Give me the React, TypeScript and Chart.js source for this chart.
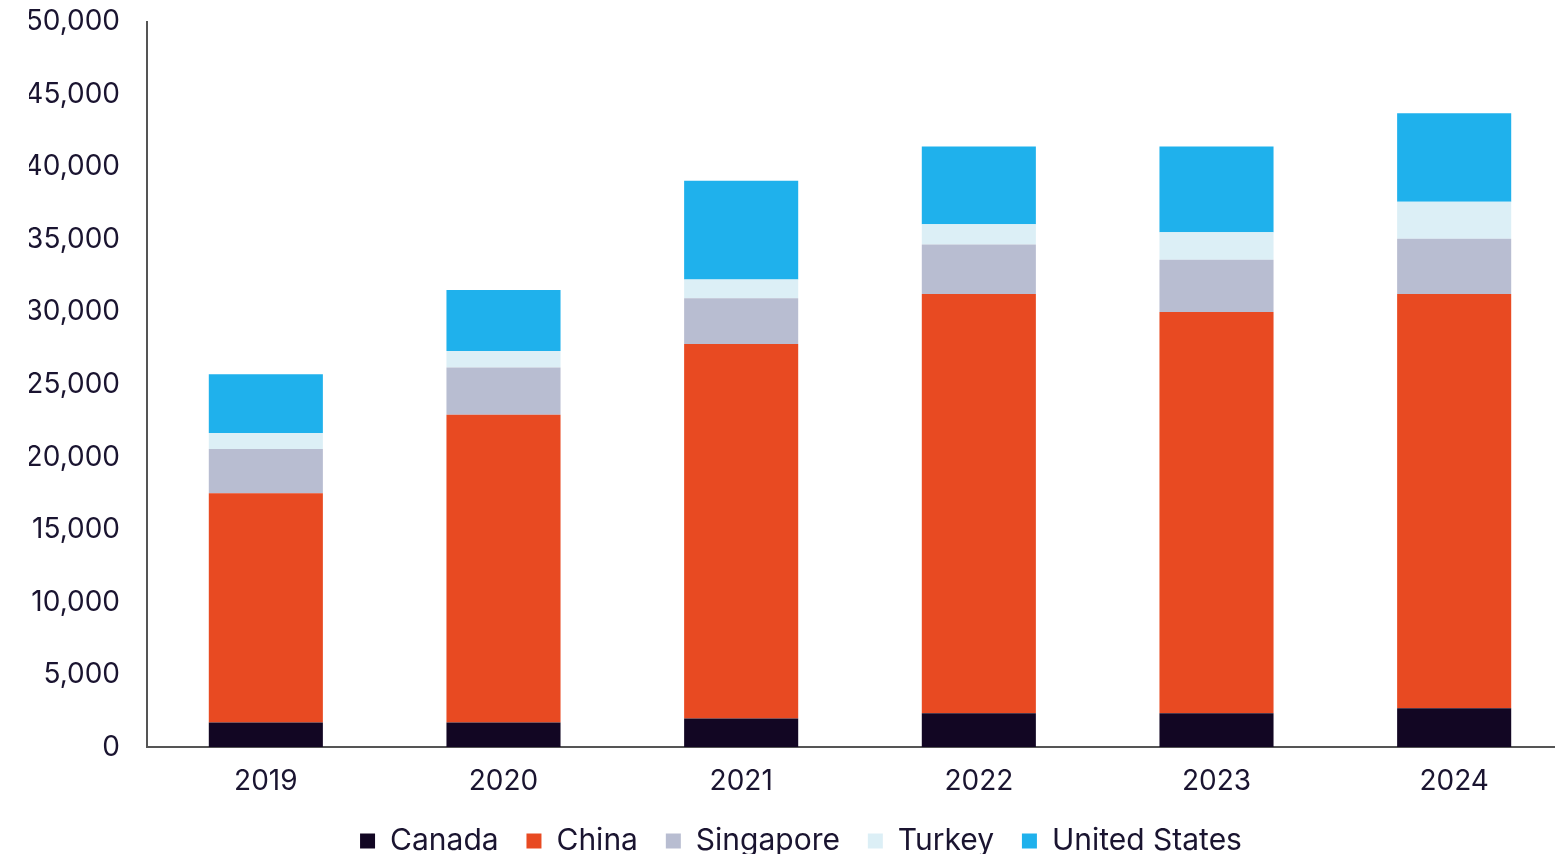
import React, { useEffect, useRef } from "react";
import { Chart, registerables } from "chart.js";

Chart.register(...registerables);

const years = ["2019", "2020", "2021", "2022", "2023", "2024"];
const canada = [1720, 1720, 2000, 2350, 2350, 2700];
const china = [15800, 21200, 25800, 28900, 27650, 28550];
const singapore = [3050, 3250, 3150, 3400, 3600, 3800];
const turkey = [1100, 1150, 1300, 1400, 1900, 2550];
const unitedStates = [4050, 4200, 6800, 5350, 5900, 6100];

const seriesNames = ["Canada", "China", "Singapore", "Turkey", "United States"];
const seriesColors = ["#120623", "#E84A22", "#B8BDD1", "#DCEFF6", "#1FB1EC"];

const textColor = "#1A1430";
const fontFamily = "Inter, 'Noto Sans', sans-serif";

export default function App() {
  const ref = useRef<HTMLCanvasElement | null>(null);
  useEffect(() => {
    document.body.style.margin = "0";
    const values = [canada, china, singapore, turkey, unitedStates];
    const defaultGen = (Chart.defaults as any).plugins.legend.labels.generateLabels;
    const chart = new Chart(ref.current as HTMLCanvasElement, {
      type: "bar",
      data: {
        labels: years,
        datasets: seriesNames.map((name, i) => ({
          label: name,
          data: values[i],
          backgroundColor: seriesColors[i],
          borderWidth: 0,
          barPercentage: 0.48,
          categoryPercentage: 1,
        })),
      },
      options: {
        animation: false,
        responsive: false,
        maintainAspectRatio: false,
        layout: { padding: { left: 29, right: 0, top: 0, bottom: 0 } },
        plugins: {
          tooltip: { enabled: false },
          legend: {
            position: "bottom",
            labels: {
              color: textColor,
              font: { family: fontFamily, size: 30 },
              boxWidth: 15,
              boxHeight: 15,
              padding: 11,
              generateLabels: (c: any) => {
                const items = defaultGen(c);
                return items.map((it: any, i: number) => ({
                  ...it,
                  text: i < items.length - 1 ? it.text + "  " : it.text,
                }));
              },
            },
          },
        },
        scales: {
          x: {
            stacked: true,
            grid: { display: false, drawTicks: false },
            border: { display: true, color: "#555555", width: 2 },
            ticks: { color: textColor, font: { family: fontFamily, size: 28 }, padding: 17 },
          },
          y: {
            stacked: true,
            min: 0,
            max: 50000,
            grid: {
              display: true,
              drawOnChartArea: false,
              drawTicks: true,
              tickLength: 22,
              color: "rgba(0,0,0,0)",
            },
            border: { display: true, color: "#555555", width: 2 },
            ticks: {
              stepSize: 5000,
              color: textColor,
              font: { family: fontFamily, size: 28 },
              padding: 5,
              callback: (v: any) => Number(v).toLocaleString("en-US"),
            },
            afterFit: (scale: any) => {
              scale.width = 118;
            },
          },
        },
      },
    });
    return () => chart.destroy();
  }, []);
  return (
    <div style={{ position: "absolute", left: 0, top: 0, width: 1555, height: 854, overflow: "hidden" }}>
      <canvas ref={ref} width={1573} height={866} style={{ width: 1573, height: 866, display: "block" }} />
    </div>
  );
}
